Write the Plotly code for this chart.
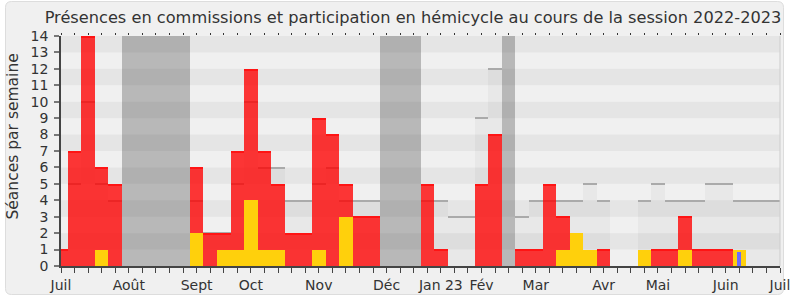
import plotly.graph_objects as go

# ---- data (one value per week, week 0 = début juillet 2022) ----
weeks = list(range(54))
presences_commission = [1, 7, 14, 6, 5, 0, 0, 0, 0, 0,
                        6, 2, 2, 7, 12, 7, 5, 2, 2, 9,
                        8, 5, 3, 3, 0, 0, 0, 5, 1, 0,
                        0, 5, 8, 0, 1, 1, 5, 3, 0, 0,
                        1, 0, 0, 0, 1, 1, 3, 1, 1, 1,
                        0, 0, 0, 0]
participation_hemicycle = [0, 0, 0, 1, 0, 0, 0, 0, 0, 0,
                           2, 0, 1, 1, 4, 1, 1, 0, 0, 1,
                           0, 3, 0, 0, 0, 0, 0, 0, 0, 0,
                           0, 0, 0, 0, 0, 0, 0, 1, 2, 1,
                           0, 0, 0, 1, 0, 0, 1, 0, 0, 0,
                           1, 0, 0, 0]
questions = [0] * 50 + [0.85] + [0, 0, 0]
mediane = [1, 5, 10, 5, 4, 0, 0, 0, 0, 0,
           4, 2, 2, 5, 10, 6, 6, 4, 4, 5,
           6, 4, 4, 4, 0, 0, 0, 4, 4, 3,
           3, 9, 12, 0, 3, 4, 4, 4, 4, 5,
           4, 0, 0, 4, 5, 4, 4, 4, 5, 5,
           4, 4, 4, 4]
vacances = [0, 0, 0, 0, 0, 14, 14, 14, 14, 14,
            0, 0, 0, 0, 0, 0, 0, 0, 0, 0,
            0, 0, 0, 0, 14, 14, 14, 0, 0, 0,
            0, 0, 0, 14, 0, 0, 0, 0, 0, 0,
            0, 0, 0, 0, 0, 0, 0, 0, 0, 0,
            0, 0, 0, 0]
month_pos = [0, 5, 10, 14, 19, 24, 28, 31, 35, 40, 44, 49, 53]
month_labels = ["Juil", "Août", "Sept", "Oct", "Nov", "Déc", "Jan 23",
                "Fév", "Mar", "Avr", "Mai", "Juin", "Juil"]
y_ticks = list(range(15))
title = "Présences en commissions et participation en hémicycle au cours de la session 2022-2023"
y_title = "Séances par semaine"

FONT = "DejaVu Sans"


def nz(vals):
    return [v if v else None for v in vals]


def top_edge(vals, thick):
    # thin bar sitting at the top of each value (used as a "top line")
    return [v - thick / 2 if v else None for v in vals], [thick if v else None for v in vals]


fig = go.Figure()

# median activity (light fill)
fig.add_trace(go.Bar(x=weeks, y=nz(mediane), width=1,
                     marker=dict(color="rgba(0,0,0,0.03)", line=dict(width=0)),
                     hoverinfo="skip"))
# median top lines
mb, mh = top_edge(mediane, 0.09)
fig.add_trace(go.Bar(x=weeks, y=mh, base=mb, width=1,
                     marker=dict(color="#aaaaaa", line=dict(width=0)), hoverinfo="skip"))
# holidays
fig.add_trace(go.Bar(x=weeks, y=nz(vacances), width=1,
                     marker=dict(color="rgba(70,70,70,0.33)", line=dict(width=0)),
                     hoverinfo="skip"))
# commission presence (red)
fig.add_trace(go.Bar(x=weeks, y=nz(presences_commission), width=1,
                     marker=dict(color="rgba(255,0,0,0.78)", line=dict(width=0)),
                     hoverinfo="skip"))
rb, rh = top_edge(presences_commission, 0.07)
fig.add_trace(go.Bar(x=weeks, y=rh, base=[b - 0.035 if b is not None else None for b in rb],
                     width=1, marker=dict(color="rgb(255,20,20)", line=dict(width=0)),
                     hoverinfo="skip"))
# hemicycle participation (yellow)
fig.add_trace(go.Bar(x=weeks, y=nz(participation_hemicycle), width=1,
                     marker=dict(color="rgb(255,208,12)", line=dict(width=0)),
                     hoverinfo="skip"))
# questions (blue)
fig.add_trace(go.Bar(x=weeks, y=nz(questions), width=0.27,
                     marker=dict(color="rgb(108,108,255)", line=dict(width=0)),
                     hoverinfo="skip"))
# invisible trace for top tick axis
fig.add_trace(go.Scatter(x=[0, 53], y=[0, 0], mode="markers", xaxis="x2",
                         marker=dict(opacity=0), hoverinfo="skip"))

tickvals = list(range(54))
ticktext = [""] * 54
for p, lab in zip(month_pos, month_labels):
    ticktext[p] = lab

# frame with rounded corners (paper coords relative to plot area)
L, R, T, B = 61, 780, 36, 266
W, H = R - L, B - T
def px(x): return (x - L) / W
def py(y): return (B - y) / H
x0, x1, y0, y1 = px(5.5), px(783.5), py(1.5), py(294.5)
rx, ry = 6 / W, 6 / H
path = (f"M {x0+rx},{y0} L {x1-rx},{y0} Q {x1},{y0} {x1},{y0-ry} "
        f"L {x1},{y1+ry} Q {x1},{y1} {x1-rx},{y1} L {x0+rx},{y1} "
        f"Q {x0},{y1} {x0},{y1+ry} L {x0},{y0-ry} Q {x0},{y0} {x0+rx},{y0} Z")
shapes = [dict(type="path", path=path, xref="paper", yref="paper", layer="below",
               fillcolor="#f0f0f0", line=dict(color="#dddddd", width=1))]
for k in range(1, 14, 2):
    shapes.append(dict(type="rect", xref="paper", yref="y", x0=0, x1=1, y0=k, y1=k + 1,
                       fillcolor="#e5e5e5", line=dict(width=0), layer="below"))
shapes.append(dict(type="line", xref="paper", yref="paper", x0=1, x1=1, y0=0, y1=1,
                   line=dict(color="#cccccc", width=1)))

fig.update_layout(
    width=790, height=300,
    margin=dict(l=L, r=790 - R, t=T, b=300 - B, autoexpand=False),
    paper_bgcolor="white", plot_bgcolor="#fafafa",
    barmode="overlay", bargap=0, showlegend=False,
    font=dict(family=FONT, color="#333333"),
    title=dict(text=title, x=413 / 790, xanchor="center", xref="container",
               y=1 - 17 / 300, yanchor="middle", yref="container",
               font=dict(family=FONT, size=16.2, color="#333333")),
    xaxis=dict(range=[0, 53], tickmode="array", tickvals=tickvals, ticktext=ticktext,
               ticks="outside", ticklen=5, tickcolor="#444444", tickwidth=1,
               showgrid=False, zeroline=False, showline=True, linecolor="#444444",
               linewidth=1.5, tickfont=dict(size=14, color="#333333"),
               ticklabeloverflow="allow", automargin=False, fixedrange=True),
    xaxis2=dict(range=[0, 53], overlaying="x", side="top", tickmode="array",
                tickvals=tickvals, ticktext=[""] * 54, ticks="outside", ticklen=2,
                tickcolor="#333333", tickwidth=1, showgrid=False, zeroline=False,
                showline=False, automargin=False),
    yaxis=dict(range=[0, 14], tickmode="array", tickvals=y_ticks,
               ticks="outside", ticklen=5, tickcolor="#777777", tickwidth=1.5,
               showgrid=False, zeroline=False, showline=True, linecolor="#444444",
               linewidth=1.5, tickfont=dict(size=14, color="#333333"),
               ticklabelstandoff=3, automargin=False),
    shapes=shapes,
    annotations=[dict(text=y_title, xref="paper", yref="paper", x=px(12.5), y=py(137),
                      xanchor="center", yanchor="middle", textangle=-90, showarrow=False,
                      font=dict(family=FONT, size=15.5, color="#333333"))],
)

fig.write_html("out.html")
